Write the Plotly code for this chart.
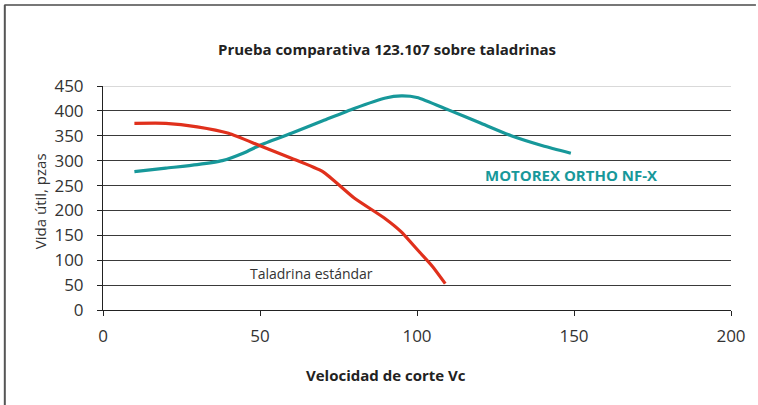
import plotly.graph_objects as go

# Data
std_x = [10, 20, 30, 40, 50, 60, 70, 80, 90, 95, 100, 105, 109]
std_y = [375, 375, 368, 355, 330, 305, 278, 225, 183, 157, 122, 87, 53]
mot_x = [10, 20, 30, 38, 45, 50, 60, 70, 80, 90, 95, 100, 110, 120, 130, 140, 149]
mot_y = [278, 285, 292, 300, 316, 331, 355, 380, 405, 426, 430, 427, 402, 376, 350, 330, 315]
x_ticks = [0, 50, 100, 150, 200]
y_ticks = [0, 50, 100, 150, 200, 250, 300, 350, 400, 450]

TEAL = "#17989a"
RED = "#e0301c"
FONT = "Open Sans"

fig = go.Figure()
fig.add_trace(go.Scatter(x=mot_x, y=mot_y, mode="lines",
                         line=dict(color=TEAL, width=3.2, shape="spline", smoothing=0.6),
                         showlegend=False, hoverinfo="skip"))
fig.add_trace(go.Scatter(x=std_x, y=std_y, mode="lines",
                         line=dict(color=RED, width=3.2, shape="spline", smoothing=0.5),
                         showlegend=False, hoverinfo="skip"))

L, R, T, B = 103, 25, 86, 95
W, H = 758, 405
pw, ph = W - L - R, H - T - B

def px_x(p):
    return (p - L) / pw

def px_y(p):
    return (H - B - p) / ph

fig.update_layout(
    width=W, height=H,
    margin=dict(l=L, r=R, t=T, b=B),
    paper_bgcolor="white", plot_bgcolor="white",
    font=dict(family=FONT, color="#333333"),
    xaxis=dict(range=[0, 200], tickvals=x_ticks, showgrid=False, zeroline=False,
               showline=True, linecolor="#222222", linewidth=1,
               ticks="outside", ticklen=5, tickcolor="#222222",
               tickfont=dict(size=17, color="#333333", family=FONT),
               ticklabelstandoff=6),
    yaxis=dict(range=[0, 450], tickvals=y_ticks, showgrid=True, gridcolor="#3a3a3a",
               gridwidth=1, zeroline=False,
               showline=True, linecolor="#222222", linewidth=1,
               ticks="outside", ticklen=5, tickcolor="#222222",
               tickfont=dict(size=17, color="#333333", family=FONT),
               ticklabelstandoff=10),
    shapes=[
        dict(type="line", xref="x", yref="y", x0=0, x1=200, y0=450, y1=450,
             line=dict(color="#d9d9d9", width=2), layer="above"),
        dict(type="line", xref="paper", yref="paper", x0=px_x(4), x1=px_x(758),
             y0=px_y(5), y1=px_y(5), line=dict(color="#777777", width=2)),
        dict(type="line", xref="paper", yref="paper", x0=px_x(4.5), x1=px_x(4.5),
             y0=px_y(5), y1=px_y(405), line=dict(color="#555555", width=2)),
    ],
    annotations=[
        dict(text="<b>Prueba comparativa 123.107 sobre taladrinas</b>", xref="paper", yref="paper",
             x=px_x(388), y=px_y(49), showarrow=False, xanchor="center", yanchor="middle",
             font=dict(size=15, color="#222222", family=FONT)),
        dict(text="<b>Velocidad de corte Vc</b>", xref="paper", yref="paper",
             x=px_x(387), y=px_y(375), showarrow=False, xanchor="center", yanchor="middle",
             font=dict(size=15, color="#222222", family=FONT)),
        dict(text="Vida útil, pzas", xref="paper", yref="paper", textangle=-90,
             x=px_x(40), y=px_y(201), showarrow=False, xanchor="center", yanchor="middle",
             font=dict(size=15, color="#333333", family=FONT)),
        dict(text="<b>MOTOREX ORTHO NF-X</b>", xref="x", yref="y", x=149, y=271,
             showarrow=False, xanchor="center", yanchor="middle",
             font=dict(size=15, color=TEAL, family=FONT)),
        dict(text="Taladrina estándar", xref="x", yref="y", x=66.3, y=74,
             showarrow=False, xanchor="center", yanchor="middle",
             font=dict(size=14, color="#333333", family=FONT)),
    ],
)

fig.write_html("out.html", config={"displayModeBar": False},
               post_script="document.body.style.margin='0';")
